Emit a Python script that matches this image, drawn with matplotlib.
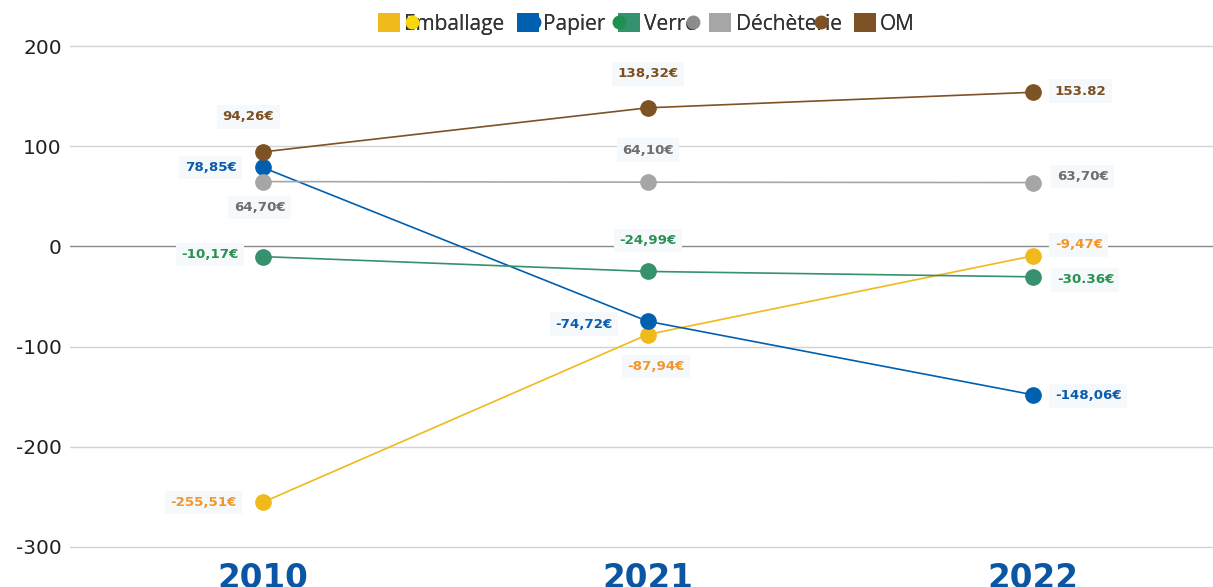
import matplotlib
matplotlib.use("Agg")
import matplotlib.pyplot as plt
from matplotlib.patches import Patch
from matplotlib.lines import Line2D

plt.rcParams["axes.unicode_minus"] = False

# data
years = ["2010", "2021", "2022"]
series = ["Emballage", "Papier", "Verre", "Déchèterie", "OM"]
emballage = [-255.51, -87.94, -9.47]
papier = [78.85, -74.72, -148.06]
verre = [-10.17, -24.99, -30.36]
decheterie = [64.70, 64.10, 63.70]
om = [94.26, 138.32, 153.82]
labels_emballage = ["-255,51€", "-87,94€", "-9,47€"]
labels_papier = ["78,85€", "-74,72€", "-148,06€"]
labels_verre = ["-10,17€", "-24,99€", "-30.36€"]
labels_decheterie = ["64,70€", "64,10€", "63,70€"]
labels_om = ["94,26€", "138,32€", "153.82"]

# styles
line_colors = ["#f0b91c", "#0060b0", "#35916e", "#a6a6a6", "#7d5224"]
text_colors = ["#f2962a", "#0b5cad", "#2a9150", "#6e6e6e", "#7b4f1f"]
dot_colors = ["#f8d80a", "#0060b0", "#209050", "#8c8c8c", "#7d5224"]
# label offsets in pixels (dx, dy, ha) per series per year
offsets = [
    [(-26, 0, "right"), (8, -32, "center"), (22, 11, "left")],
    [(-26, 0, "right"), (-35, -3, "right"), (22, -1, "left")],
    [(-24, 2, "right"), (0, 31, "center"), (24, -3, "left")],
    [(-3, -26, "center"), (0, 32, "center"), (24, 6, "left")],
    [(-14, 35, "center"), (0, 34, "center"), (22, 1, "left")],
]

fig = plt.figure(figsize=(12.13, 5.87), dpi=100)
ax = fig.add_axes([70 / 1213, 1 - 552 / 587, 1 - 70 / 1213, 511 / 587])
x = list(range(len(years)))

ax.set_ylim(-305, 205)
ax.set_xlim(-0.5, 2.468)
for v in [-300, -200, -100, 100, 200]:
    ax.axhline(v, color="#d2d2d2", lw=1, zorder=0)
ax.axhline(0, color="#8a8a8a", lw=1, zorder=0)

all_vals = [emballage, papier, verre, decheterie, om]
all_labels = [labels_emballage, labels_papier, labels_verre, labels_decheterie, labels_om]
for i, (vals, labs) in enumerate(zip(all_vals, all_labels)):
    ax.plot(x, vals, color=line_colors[i], lw=1.2, marker="o", ms=11,
            zorder=3, clip_on=False)
    for j in range(len(years)):
        dx, dy, ha = offsets[i][j]
        ax.annotate(labs[j], (x[j], vals[j]), xytext=(dx * 0.72, dy * 0.72),
                    textcoords="offset points", ha=ha, va="center",
                    fontsize=9.6, fontweight="bold", color=text_colors[i],
                    bbox=dict(boxstyle="square,pad=0.4", fc="#f6f9fc", ec="none"),
                    zorder=5)

ax.set_xticks(x)
ax.set_xticklabels(years, fontsize=23.5, fontweight="bold", color="#0b56a4")
ax.set_yticks([-300, -200, -100, 0, 100, 200])
ax.tick_params(axis="x", length=0, pad=7)
ax.tick_params(axis="y", length=0, pad=6, labelsize=14.5, labelcolor="#222222")
for s in ax.spines.values():
    s.set_visible(False)

# legend: squares with labels, then a second set of dots (as in the original)
handles = [Patch(facecolor=c, edgecolor="none") for c in line_colors]
leg1 = fig.legend(handles, series, ncol=5, loc="center",
                  bbox_to_anchor=(0.533, 1 - 24 / 587), frameon=False,
                  prop={"family": "Open Sans", "size": 15},
                  handlelength=1.05, handleheight=1.05, handletextpad=0.2,
                  columnspacing=0.6, labelcolor="#333333")
fig.add_artist(leg1)
dots = [Line2D([], [], marker="o", ls="none", ms=9, color=c) for c in dot_colors]
leg2 = fig.legend(dots, series, ncol=5, loc="center",
                  bbox_to_anchor=(0.5245, 1 - 24 / 587), frameon=False,
                  prop={"family": "Open Sans", "size": 15},
                  handlelength=0.5, handletextpad=0.2, columnspacing=0.35)
for t in leg2.get_texts():
    t.set_alpha(0)

fig.savefig("out.png", dpi=100)
